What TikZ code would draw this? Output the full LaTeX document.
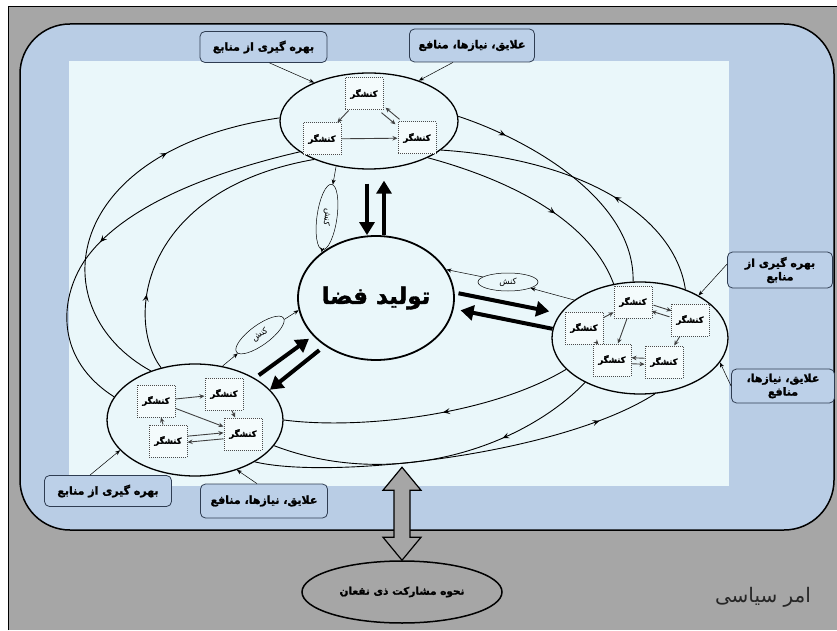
\documentclass[tikz,border=0pt]{standalone}
\usepackage{fontspec}
\usepackage{tikz}
\usetikzlibrary{arrows.meta, shapes.geometric, decorations.markings}
\newfontfamily\arabicfont[Script=Arabic, BoldFeatures={FakeBold=1.5}]{DejaVu Sans}
\TeXXeTstate=1
\newcommand{\fatext}[1]{\beginR #1\endR}

\definecolor{framegray}{HTML}{A6A6A6}
\definecolor{bandblue}{HTML}{B9CDE5}
\definecolor{fieldcyan}{HTML}{EAF7FA}
\definecolor{labelblue}{HTML}{BCD0E8}
\definecolor{labeledge}{HTML}{2F3D52}

\tikzset{
  cluster/.style={draw, ellipse, line width=1.3pt, fill=fieldcyan, inner sep=0pt, minimum width=176pt, minimum height=112pt},
  actor/.style={draw=black!70, densely dotted, line width=1pt, fill=white!50!fieldcyan, minimum width=38pt, minimum height=32pt, inner sep=1pt, font=\arabicfont\bfseries\fontsize{8.5}{10}\selectfont},
  deed/.style={draw, ellipse, line width=0.5pt, fill=fieldcyan, inner sep=0pt, font=\arabicfont\fontsize{8.5}{10}\selectfont},
  note/.style={draw=labeledge, fill=labelblue, rounded corners=5pt, line width=0.8pt, minimum width=127pt, minimum height=31pt, align=center, font=\arabicfont\bfseries\fontsize{11}{13.5}\selectfont},
  flow/.style={draw=black!75, line width=0.9pt, -{Stealth[length=5pt,width=4.5pt]}},
  link/.style={line width=0.5pt, -{Stealth[length=5pt,width=4pt]}},
  bigarrow/.style={line width=4pt, -{Triangle[length=13pt,width=15pt]}},
  orbit/.style={line width=0.9pt},
  mid arrow/.style={postaction={decorate}, decoration={markings, mark=at position #1 with {\arrow{Stealth[length=7pt,width=6pt,inset=3pt]}}}}
}

\begin{document}
\begin{tikzpicture}[x=1pt, y=1pt]
  \useasboundingbox (0,0) rectangle (837,630);
  \fill[framegray] (8,0) rectangle (837,623);
  \draw[line width=1pt] (8,0) -- (8,623) -- (837,623);
  \draw[line width=1.5pt, fill=bandblue, rounded corners=50pt] (20,100) rectangle (834,606);
  \fill[fieldcyan] (69,144) rectangle (729,569);

  \node[cluster, minimum width=178pt, minimum height=96pt] (topgroup) at (369,509) {};
  \node[cluster] (rightgroup) at (640,292) {};
  \node[cluster] (leftgroup) at (195,210) {};
  \node[cluster, line width=1.8pt, minimum width=156pt, minimum height=124pt, font=\arabicfont\bfseries\fontsize{23}{27}\selectfont] (space) at (376,332) {\fatext{تولید فضا}};

  \draw[orbit, mid arrow=0.7] (leftgroup.132) .. controls (40,320) and (60,480) .. (topgroup.178);
  \draw[orbit, mid arrow=0.55] (topgroup.204) .. controls (200,455) and (120,420) .. (85,370) .. controls (58,330) and (56,270) .. (leftgroup.164);
  \draw[orbit, mid arrow=0.25] (leftgroup.123) .. controls (125,310) and (140,440) .. (topgroup.215);
  \draw[orbit, mid arrow=0.2] (topgroup.3) .. controls (530,490) and (635,430) .. (rightgroup.97);
  \draw[orbit, mid arrow=0.4] (rightgroup.47) .. controls (675,410) and (590,470) .. (topgroup.-22);
  \draw[orbit, mid arrow=0.6] (topgroup.-32) .. controls (510,450) and (590,410) .. (rightgroup.116);
  \draw[orbit, mid arrow=0.45] (rightgroup.203) .. controls (490,215) and (360,200) .. (leftgroup.0);
  \draw[orbit, mid arrow=0.3] (rightgroup.219) .. controls (520,180) and (390,140) .. (leftgroup.-18);
  \draw[orbit, mid arrow=0.85] (leftgroup.-35) .. controls (330,150) and (560,175) .. (rightgroup.-75);

  \node[actor] (t1) at (364,536) {کنشگر};
  \node[actor] (t2) at (322,491) {کنشگر};
  \node[actor] (t3) at (417,492) {کنشگر};
  \draw[flow] (t1) -- (t2);
  \draw[flow] (t2) -- (t3);
  \draw[flow, transform canvas={xshift=-2pt,yshift=-2.5pt}] (t1) -- (t3);
  \draw[flow, transform canvas={xshift=2pt,yshift=2.5pt}] (t3) -- (t1);

  \node[actor] (r1) at (633,328) {کنشگر};
  \node[actor] (r2) at (690,310) {کنشگر};
  \node[actor] (r3) at (584,302) {کنشگر};
  \node[actor] (r4) at (612,270) {کنشگر};
  \node[actor] (r5) at (664,268) {کنشگر};
  \draw[flow] (r3) -- (r1);
  \draw[flow, transform canvas={xshift=1pt,yshift=3pt}] (r1) -- (r2);
  \draw[flow, transform canvas={xshift=-1pt,yshift=-3pt}] (r2) -- (r1);
  \draw[flow] (r1) -- (r4);
  \draw[flow] (r2) -- (r5);
  \draw[flow, transform canvas={yshift=3pt}] (r5) -- (r4);
  \draw[flow, transform canvas={yshift=-3pt}] (r4) -- (r5);
  \draw[flow] (r4) -- (r3);

  \node[actor] (l1) at (156,229) {کنشگر};
  \node[actor] (l2) at (224,236) {کنشگر};
  \node[actor] (l3) at (243,196) {کنشگر};
  \node[actor] (l4) at (168,189) {کنشگر};
  \draw[flow] (l1) -- (l2);
  \draw[flow] (l2) -- (l3);
  \draw[flow] (l1) -- (l3);
  \draw[flow, transform canvas={yshift=3pt}] (l4) -- (l3);
  \draw[flow, transform canvas={yshift=-3pt}] (l3) -- (l4);
  \draw[flow] (l4) -- (l1);

  \draw[bigarrow, shorten <=14pt] ([xshift=-2pt]topgroup.south) -- ([xshift=-9pt]space.north);
  \draw[bigarrow, shorten >=11pt] ([xshift=8pt]space.north) -- ([xshift=15pt]topgroup.south);
  \draw[bigarrow, shorten <=4pt, shorten >=11pt] (space.4) -- (rightgroup.163);
  \draw[bigarrow, shorten >=7pt] (rightgroup.174) -- (space.-8);
  \draw[bigarrow, shorten <=5pt, shorten >=5pt] (leftgroup.35) -- (space.211);
  \draw[bigarrow, shorten <=7pt] (space.223) -- (leftgroup.22);

  \node[deed, minimum width=66pt, minimum height=20pt, rotate=-98] (k1) at (327,413) {کنش};
  \node[deed, minimum width=60pt, minimum height=18pt] (k2) at (508,348) {کنش};
  \node[deed, minimum width=58pt, minimum height=20pt, rotate=36] (k3) at (260,295) {کنش};
  \draw[link] (topgroup.234) -- (k1);
  \draw[link] (k1) -- (space.140);
  \draw[link] (rightgroup.150) -- (k2);
  \draw[link] (k2) -- (space.22);
  \draw[link] (leftgroup.63) -- (k3);
  \draw[link] (k3) -- (space.189);

  \node[note] (lt1) at (263.5,583) {\fatext{بهره گیری از منابع}};
  \node[note, minimum width=125pt, minimum height=33pt] (lt2) at (472,584.5) {\fatext{علایق، نیازها، منافع}};
  \node[note, minimum width=105pt, minimum height=36pt] (lr1) at (780,360) {\fatext{بهره گیری از}\\منابع};
  \node[note, minimum width=103pt, minimum height=34pt] (lr2) at (783,244) {\fatext{علایق، نیازها،}\\منافع};
  \node[note] (lb1) at (108,139) {\fatext{بهره گیری از منابع}};
  \node[note, minimum height=34pt] (lb2) at (264,129) {\fatext{علایق، نیازها، منافع}};
  \draw[link] ([xshift=6pt]lt1.south) -- (topgroup.145);
  \draw[link] ([xshift=-19pt]lt2.south) -- (topgroup.39);
  \draw[link] ([yshift=6pt]lr1.west) -- (rightgroup.36);
  \draw[link] (lr2.west) -- (rightgroup.-17);
  \draw[link] ([xshift=-18pt]lb1.north) -- (leftgroup.202);
  \draw[link] ([xshift=-7pt]lb2.north) -- (leftgroup.-50);

  \node[draw, ellipse, line width=1.5pt, fill=framegray, minimum width=200pt, minimum height=62pt, font=\arabicfont\bfseries\fontsize{10.5}{12}\selectfont] (share) at (402,38) {\fatext{نحوه مشارکت ذی نفعان}};
  \node[font=\arabicfont\fontsize{20}{24}\selectfont, text=black!85] (politics) at (763,33) {\fatext{امر سیاسی}};
  \draw[line width=1.2pt, fill=framegray] (share.north) -- ++(-19,23) -- ++(11,0) -- ++(0,47) -- ++(-11,0) -- ++(19,23) -- ++(19,-23) -- ++(-11,0) -- ++(0,-47) -- ++(11,0) -- cycle;
\end{tikzpicture}
\end{document}
